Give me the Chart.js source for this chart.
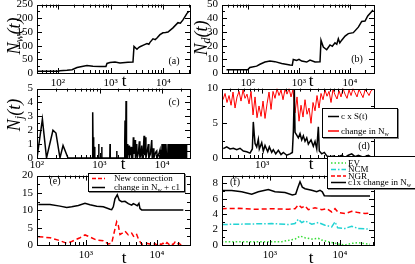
<!DOCTYPE html>
<html>
<head>
<meta charset="utf-8">
<script src="https://cdn.jsdelivr.net/npm/chart.js@4.4.0/dist/chart.umd.min.js"></script>
<style>
body { margin: 0; background: #fff; }
#wrap { position: relative; width: 415px; height: 264px; overflow: hidden; }
#wrap canvas { position: absolute; }
.leg { position: absolute; z-index: 5; background: #fff; border: 1px solid #000; box-sizing: border-box;
       box-shadow: 1px 1px 0 #888; font: 9px "Liberation Serif", serif; color: #000; }
.leg span { position: absolute; white-space: nowrap; line-height: 10px; }
.leg sub { font-size: 6px; vertical-align: -2px; line-height: 0; }
.leg svg { position: absolute; left: 0; top: 0; }
</style>
</head>
<body>
<div id="wrap"></div>
<script>
// (t, value) pairs
var nwPts = [[40,6],[100,6],[109,8],[148,10],[185,12],[230,20],[285,24],[355,27],[461,25],[627,24],[814,24],[851,35],[970,38],[1208,40],[1500,37],[2128,39],[2650,40],[2770,97],[3155,87],[3400,93],[3600,96],[4285,103],[4885,108],[5300,105],[5568,112],[6347,125],[7000,122],[7563,128],[8614,140],[9820,147],[11000,148],[12220,150],[15200,165],[18920,184],[21000,182],[23550,194],[28050,218],[30620,226]];

var ndPts = [[38,2.3],[99,2.3],[109,4],[148,5],[172,6.4],[215,8],[270,8.7],[338,8.3],[458,7],[667,5.9],[739,5.7],[773,9.9],[901,9.2],[1000,10],[1130,8.7],[1416,8],[1643,9.5],[2061,8],[2583,8.2],[2700,24],[2995,19],[3490,17],[4052,20.5],[4500,19.5],[5079,22],[5500,21],[5900,25],[6300,22],[6877,24],[8000,27],[9268,28.8],[11610,29.5],[14550,33.5],[16950,37.7],[19680,38],[22230,41.7],[26630,45],[28250,46]];

var njPts = [[100,0],[122,2.8],[142,0],[180,2.0],[201,1.8],[233,0],[261,0.9],[313,0],
  [770,0],[778,3.3],[790,0.4],[800,1.5],[812,0],[828,0.8],[840,0],
  [962,0],[970,1.0],[980,0],[1075,0],[1084,0.8],[1095,0],[1460,0],[1472,1.0],[1485,0],[1870,0],[1884,0.5],[1900,0],
  [2500,0],[2530,1.0],[2559,2.7],[2600,0.3],[2630,0],[2655,4.1],[2700,0],[2786,1.0],[2830,0],[2880,0.8],[2920,0.3],[2965,0.9],[3010,0.2],[3080,0.7],[3140,0.2],[3192,0.8],[3250,0],
  [3400,0],[3474,1.5],[3530,0.3],[3600,0.6],[3698,1.3],[3760,0],[3840,0.5],[3937,1.0],[4010,0],[4200,0.4],[4335,1.2],[4420,0],[4600,0.3],[4735,0.9],[4820,0],[5000,0.4],[5154,1.6],[5260,0.2],[5410,1.5],[5520,0],[5800,0.5],[6043,1.0],[6160,0],[6500,0.3],[6844,1.3],[6960,0],[7261,0.7],[7400,0],[7900,0.4],[8226,0.5],[8400,0],[8900,0.3],[9290,0.6],[9500,0],
  [9900,0],[10000,1],[10240,0],[10490,1],[10740,0],[11000,1],[11270,0],[11540,1],[11800,0],
  [12300,0],[12500,1],[12750,0],[13000,1],[13300,0],[13600,1],[13900,0],[14200,1],[14550,0],[14900,1],[15250,0],[15600,1],[15950,0],
  [16600,0],[16800,1],[17200,0],[17600,1],[18000,0],[18450,1],[18900,0],[19350,1],[19800,0],[20300,1],[20800,0],[21300,1],[21800,0],[22300,1],[22800,0],[23300,1],[23800,0],[24300,1],[24700,0]];

var cSPts = [[328,1.35],[362,1.6],[398,1.3],[438,1.4],[483,1.2],[531,1.4],[584,1.0],[644,0.9],[708,0.7],[757,1.3],[778,5.2],[801,3.3],[818,2.1],[858,1.6],[899,2.7],[925,1.3],[991,2.2],[1038,1.0],[1090,1.8],[1178,0.9],[1234,1.6],[1322,0.8],[1384,1.2],[1483,0.6],[1599,1.1],[1728,0.5],[1847,0.8],[2036,0.4],[2239,0.6],[2393,0.8],[2462,3.7],[2535,9.8],[2585,3.7],[2716,3.3],[2844,2.9],[2985,3.5],[3135,2.6],[3284,3.2],[3447,2.4],[3622,2.9],[3793,2.0],[4098,2.6],[4378,1.7],[4597,2.4],[4831,1.3],[5058,4.5],[5200,1.0],[5572,0.6],[6010,0.8],[6440,0.3],[7079,0.2],[7785,0.3],[8590,0.1],[9910,0.4],[10900,0.1],[11990,0.4],[13220,0.6],[14540,0.2],[15990,0.4],[18460,0.1],[21320,0.4],[23500,0.1]];

var dNwPts = [[325,8.4],[345,9.3],[365,8.0],[387,9.0],[410,7.6],[434,9.5],[460,7.2],[487,8.8],[516,9.6],[546,8.2],[579,9.8],[613,8.6],[649,9.2],[688,7.8],[729,9.6],
  [772,6.2],[818,8.8],[866,5.8],[917,7.5],[972,6.0],[1029,8.2],[1090,5.7],[1155,7.8],[1223,9.5],[1296,7.0],
  [1372,9.6],[1454,8.6],[1540,10],[1631,9.0],[1728,9.8],[1830,8.4],[1939,9.9],[2054,9.2],[2175,10],[2304,8.8],[2441,9.9],
  [2585,6.5],[2738,8.8],[2901,5.3],[3073,7.6],[3255,5.9],[3447,8.4],[3652,6.3],[3868,7.2],[4097,5.0],[4340,8.0],[4597,6.8],[4870,9.0],[5158,7.2],[5464,9.3],
  [5788,8.4],[6131,9.8],[6494,8.9],[6879,9.6],[7286,8.0],[7718,9.9],[8175,9.1],[8660,8.5],[9173,9.7],[9716,8.8],[10290,10],[10900,9.2],[11550,8.6],[12230,9.8],[12960,9.0],[13720,10],[14540,9.4],[15400,8.8],[16310,9.9],[17280,9.3],[18300,8.7],[19390,9.8],[20540,9.5],[21750,9.0],[23040,9.7],[24410,9.9]];

var newConnPts = [[213,2.4],[311,2.1],[407,1.4],[535,0.5],[629,1.0],[823,2.1],[968,2.9],[1138,2.3],[1415,1.4],[1753,1.2],[2061,0.3],[2301,0.5],[2504,3.8],[2706,6.7],[2851,5.7],[3012,3.0],[3288,3.5],[3540,4.0],[3942,2.9],[4404,3.4],[4742,2.3],[5178,3.0],[5455,1.8],[5764,1.0],[6093,0.2],[7160,0.5],[8785,0.1],[9370,0.4],[10000,0.0],[10670,0.6],[11380,0.1],[12150,0.5],[12960,0.0],[13830,0.7],[14760,0.2],[15750,0.6],[16800,0.1],[17930,0.8],[19130,0.2],[20410,0.5],[21780,0.0],[23230,0.6]];

var chgC1Pts = [[213,11.7],[311,11.7],[430,11.2],[535,10.8],[629,11],[780,11.4],[968,12],[1138,11.6],[1415,11.2],[1753,11],[2178,10.3],[2301,10.2],[2425,11],[2560,13.3],[2760,14.5],[2944,12.9],[3184,12.5],[3540,12.6],[3942,11.9],[4404,11.5],[4637,11.9],[4898,11.7],[5281,11.3],[5575,12],[5764,10.5],[6093,10.1],[7967,10.1],[15240,10.1],[23500,10.1]];

var evPts = [[204,0.43],[611,0.43],[1469,0.43],[2276,0.77],[2683,1.16],[3162,0.94],[3942,0.77],[4898,0.86],[5480,0.64],[6806,0.43],[9466,0.13],[11790,0.0],[14690,0.21],[18250,0.3],[26830,0.09]];
var ncmPts = [[204,2.66],[611,2.74],[1057,2.78],[1825,2.66],[2276,2.78],[2535,3.34],[2837,2.91],[3162,3.13],[3942,2.7],[4898,2.91],[6105,2.57],[7608,2.36],[8483,3.0],[9270,2.23],[11790,2.14],[14690,2.44],[18250,2.14],[26830,2.06]];
var ngrPts = [[204,4.71],[352,4.75],[611,4.63],[1057,4.7],[1825,4.63],[2276,4.71],[2535,5.2],[2837,4.84],[3162,5.06],[3524,4.58],[4394,4.84],[5480,4.58],[6457,4.71],[7608,4.28],[8483,4.71],[9466,4.2],[11790,4.07],[14690,4.37],[18250,4.2],[22760,4.07],[26830,4.15]];
var c1Pts = [[206,7.07],[284,7.07],[394,6.9],[548,6.6],[681,6.9],[946,7.2],[1179,6.9],[1638,6.8],[2083,6.5],[2329,6.6],[2488,7.4],[2683,8.2],[2893,7.5],[3162,7.3],[3942,7.1],[4645,6.9],[5179,7.1],[5587,6.9],[5966,6.4],[7608,6.35],[26830,6.35]];

// y tick labels per panel
var aTicks = [0, 50, 100, 150, 200, 250];
var bTicks = [0, 10, 20, 30, 40, 50];
var cTicks = [0, 1, 2, 3, 4, 5];
var dTicks = [0, 5, 10];
var eTicks = [0, 5, 10, 15, 20];
var fTicks = [0, 2, 4, 6, 8];

var RED = '#ff0000', CYAN = '#22d3d3', GREEN = '#33dd33';
var SUP = {2: '\u00b2', 3: '\u00b3', 4: '\u2074'};

Chart.defaults.font.family = '"Liberation Serif", "Times New Roman", serif';
Chart.defaults.font.size = 11;
Chart.defaults.color = '#000';

function xy(p) { return p.map(function (q) { return {x: q[0], y: q[1]}; }); }
function logLabel(v) {
    var e = Math.log10(v);
    return Math.abs(e - Math.round(e)) < 1e-6 ? '10' + SUP[Math.round(e)] : '';
}

var L = 37, R = 8, T = 10, B = 20;

var panels = [
    {box: [37, 4, 190, 73], x: [40, 32000], y: [0, 250], ticks: aTicks, minor: 25, xpad: 4, title: ['N', 'w', 14, 36], t: [124, 82], tag: ['(a)', 174, 61],
     sets: [{d: nwPts, c: '#000', w: 1.5}]},
    {box: [222, 4, 374, 73], x: [31, 29500], y: [0, 50], ticks: bTicks, minor: 5, xpad: 4, title: ['N', 'd', 201, 38], t: [311, 82], tag: ['(b)', 357, 59],
     sets: [{d: ndPts, c: '#000', w: 1.5}]},
    {box: [37, 88, 190, 158], x: [100, 28000], y: [0, 5], ticks: cTicks, minor: 0.5, xpad: 1, title: ['N', 'j', 14, 115], t: [123, 165], tag: ['(c)', 174, 102],
     sets: [{d: njPts, c: '#000', w: 1.5}]},
    {box: [222, 88, 374, 158], x: [316, 25100], y: [0, 10], ticks: dTicks, minor: 2.5, xpad: 1, t: [311, 165], tag: ['(d)', 364, 146],
     sets: [{d: cSPts, c: '#000', w: 1.5}, {d: dNwPts, c: RED, w: 1}]},
    {box: [37, 175, 190, 245], x: [204, 29200], y: [0, 20], ticks: eTicks, minor: 2.5, xpad: 4, t: [124, 259], tag: ['(e)', 55, 181],
     sets: [{d: chgC1Pts, c: '#000', w: 1.5}, {d: newConnPts, c: RED, w: 1.5, dash: [5, 3]}]},
    {box: [222, 175, 374, 245], x: [206, 30600], y: [0, 9], ticks: fTicks, minor: 1, xpad: 4, t: [311, 259], tag: ['(f)', 235, 182],
     sets: [{d: c1Pts, c: '#000', w: 1.5}, {d: ngrPts, c: RED, w: 1.5, dash: [5, 3]},
            {d: ncmPts, c: CYAN, w: 1.5, dash: [6, 2, 1.5, 2]}, {d: evPts, c: GREEN, w: 1.5, dash: [1.5, 2]}]}
];

function vtitle(ctx, x, y, base, sub) {
    var big = 'italic 18px "Liberation Serif", serif', small = 'italic 12px "Liberation Serif", serif';
    ctx.save();
    ctx.translate(x, y);
    ctx.rotate(-Math.PI / 2);
    ctx.fillStyle = '#000';
    ctx.textBaseline = 'alphabetic';
    ctx.font = big;
    var w1 = ctx.measureText(base).width, w3 = ctx.measureText('(t)').width;
    ctx.font = small;
    var w2 = ctx.measureText(sub).width;
    var cx = -(w1 + w2 + w3) / 2;
    ctx.font = big; ctx.fillText(base, cx, 6); cx += w1;
    ctx.font = small; ctx.fillText(sub, cx, 9); cx += w2;
    ctx.font = big; ctx.fillText('(t)', cx, 6);
    ctx.restore();
}

var frame = {
    id: 'frame',
    afterDatasetsDraw: function (chart, args, o) {
        var ctx = chart.ctx, a = chart.chartArea, xs = chart.scales.x, ys = chart.scales.y;
        ctx.save();
        ctx.strokeStyle = '#000';
        ctx.lineWidth = 1;
        ctx.strokeRect(Math.round(a.left) + 0.5, Math.round(a.top) + 0.5, Math.round(a.right - a.left), Math.round(a.bottom - a.top));
        ctx.beginPath();
        for (var e = Math.floor(Math.log10(xs.min)); e <= Math.ceil(Math.log10(xs.max)); e++) {
            for (var k = 1; k < 10; k++) {
                var v = k * Math.pow(10, e);
                if (v <= xs.min || v >= xs.max) continue;
                var px = Math.round(xs.getPixelForValue(v)) + 0.5, len = k === 1 ? 5 : 3;
                ctx.moveTo(px, a.bottom); ctx.lineTo(px, a.bottom - len);
                ctx.moveTo(px, a.top); ctx.lineTo(px, a.top + len);
            }
        }
        var major = o.ticks[1] - o.ticks[0];
        for (var y = ys.min + o.minor; y < ys.max - 1e-9; y += o.minor) {
            var isMajor = Math.abs(y / major - Math.round(y / major)) < 1e-6;
            var py = Math.round(ys.getPixelForValue(y)) + 0.5, l2 = isMajor ? 5 : 3;
            ctx.moveTo(a.left, py); ctx.lineTo(a.left + l2, py);
            ctx.moveTo(a.right, py); ctx.lineTo(a.right - l2, py);
        }
        ctx.stroke();
        ctx.restore();
    },
    afterDraw: function (chart, args, o) {
        var ctx = chart.ctx;
        ctx.save();
        ctx.fillStyle = '#000';
        ctx.textAlign = 'center';
        ctx.textBaseline = 'middle';
        ctx.font = '17px "Liberation Serif", serif';
        ctx.fillText('t', o.t[0] - o.ox, o.t[1] - o.oy);
        ctx.font = '10px "Liberation Serif", serif';
        ctx.fillText(o.tag[0], o.tag[1] - o.ox, o.tag[2] - o.oy);
        ctx.restore();
        if (o.title) vtitle(ctx, o.title[2] - o.ox, o.title[3] - o.oy, o.title[0], o.title[1]);
    }
};

var wrap = document.getElementById('wrap');
panels.forEach(function (p) {
    var x0 = p.box[0], y0 = p.box[1], x1 = p.box[2], y1 = p.box[3];
    var W = x1 - x0 + L + R, H = y1 - y0 + T + B;
    var cv = document.createElement('canvas');
    cv.width = W; cv.height = H;
    cv.style.left = (x0 - L) + 'px'; cv.style.top = (y0 - T) + 'px';
    cv.style.width = W + 'px'; cv.style.height = H + 'px';
    wrap.appendChild(cv);
    new Chart(cv, {
        type: 'line',
        data: {
            datasets: p.sets.map(function (s) {
                return {data: xy(s.d), borderColor: s.c, borderWidth: s.w, borderDash: s.dash || [],
                        pointRadius: 0, tension: 0, fill: false};
            })
        },
        options: {
            responsive: false,
            animation: false,
            events: [],
            layout: {padding: {left: 0, top: T, right: R, bottom: 0}},
            plugins: {
                legend: {display: false},
                tooltip: {enabled: false},
                frame: {ticks: p.ticks, minor: p.minor, title: p.title, t: p.t, tag: p.tag, ox: x0 - L, oy: y0 - T}
            },
            scales: {
                x: {
                    type: 'logarithmic', min: p.x[0], max: p.x[1],
                    grid: {display: false, drawTicks: false}, border: {display: false},
                    ticks: {autoSkip: false, maxRotation: 0, minRotation: 0, padding: p.xpad, callback: logLabel},
                    afterFit: function (s) { s.height = B; }
                },
                y: {
                    type: 'linear', min: p.y[0], max: p.y[1],
                    grid: {display: false, drawTicks: false}, border: {display: false},
                    ticks: {padding: 4, autoSkip: false},
                    afterBuildTicks: function (s) { s.ticks = p.ticks.map(function (v) { return {value: v}; }); },
                    afterFit: function (s) { s.width = L; }
                }
            }
        },
        plugins: [frame]
    });
});

// legends: [left, top, width, height], text x, sample x range, rows [y, colour, dash, label]
var legends = [
    {box: [322, 108, 76, 30], tx: 18, lx: [5, 16],
     rows: [[7.5, '#000', '', 'c x S(t)'], [22, RED, '', 'change in N<sub>w</sub>']]},
    {box: [88, 173, 97, 19], tx: 25, lx: [3, 16],
     rows: [[4.5, RED, '4 2', 'New connection'], [13.5, '#000', '', 'change in N<sub>w</sub> + c1']]},
    {box: [327, 156, 90, 33], tx: 20, lx: [3, 18],
     rows: [[6, GREEN, '1.5 2', 'EV'], [12.5, CYAN, '5 2 1.5 2', 'NCM'], [19, RED, '4 2', 'NGR'],
            [25.5, '#000', '', 'c1x change in N<sub>w</sub>']]}
];
legends.forEach(function (g) {
    var div = document.createElement('div');
    div.className = 'leg';
    div.style.left = g.box[0] + 'px'; div.style.top = g.box[1] + 'px';
    div.style.width = g.box[2] + 'px'; div.style.height = g.box[3] + 'px';
    var svg = '<svg width="' + g.box[2] + '" height="' + g.box[3] + '">';
    var html = '';
    g.rows.forEach(function (r) {
        svg += '<line x1="' + g.lx[0] + '" x2="' + g.lx[1] + '" y1="' + r[0] + '" y2="' + r[0] + '" stroke="' + r[1] +
               '" stroke-width="1.5"' + (r[2] ? ' stroke-dasharray="' + r[2] + '"' : '') + '/>';
        html += '<span style="left:' + g.tx + 'px;top:' + (r[0] - 5.5) + 'px">' + r[3] + '</span>';
    });
    div.innerHTML = svg + '</svg>' + html;
    wrap.appendChild(div);
});
</script>
</body>
</html>
